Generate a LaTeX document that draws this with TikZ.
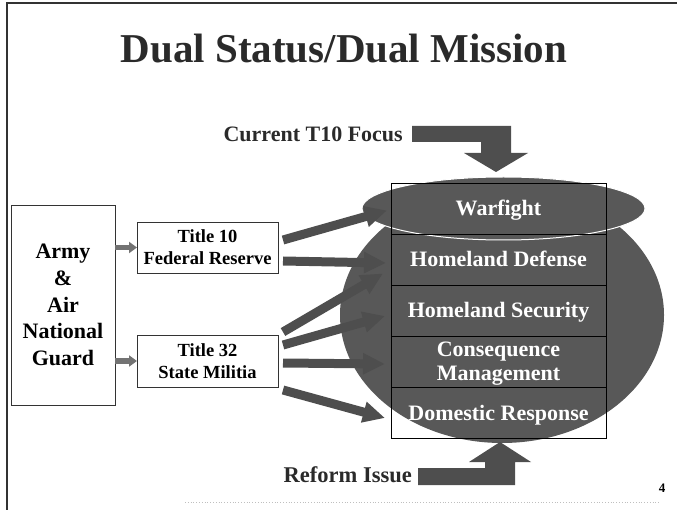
\documentclass[tikz,border=0pt]{standalone}
\usepackage{fontspec}
\setmainfont{Liberation Serif}
\usepackage{tikz}
\usetikzlibrary{shapes}
\usetikzlibrary{arrows.meta}
\usetikzlibrary{positioning}
\usetikzlibrary{calc}
\definecolor{potfill}{HTML}{585858}
\definecolor{arrfill}{HTML}{4E4E4E}
\definecolor{inktext}{HTML}{2A2A2A}
\newcommand{\slidefont}[2]{\fontsize{#1}{#2}\selectfont\bfseries}

\begin{document}
\begin{tikzpicture}[
  x=1pt, y=-1pt,
  box/.style={
    draw=black!80,
    line width=0.7pt,
    align=center,
    inner sep=0pt,
    outer sep=0pt},
  row/.style={
    draw=black,
    line width=0.5pt,
    minimum width=215pt,
    minimum height=51pt,
    inner sep=0pt,
    outer sep=0pt},
  rowtext/.style={
    text=white,
    inner sep=0pt,
    font=\slidefont{22}{24}},
  blob/.style={
    ellipse,
    fill=potfill,
    inner sep=0pt},
  feed/.style={
    -{Triangle[width=20pt,length=22pt]},
    line width=9pt,
    draw=arrfill},
  link/.style={
    -{Triangle[width=11pt,length=8pt]},
    line width=5pt,
    draw=black!55},
]

  \def\rowx{498.5}%
  \def\rowtop{183}%
  \def\rowh{51}%

  \useasboundingbox (0,0) rectangle (677,510);

  % slide frame
  \draw[line width=1.2pt, black!80] (7,510) -- (7,3) -- (677,3);
  \draw[black!25, dotted, line width=0.8pt] (185,502) -- (660,502);

  % title
  \node[font=\slidefont{41}{41}, text=inktext, anchor=base] (title)
      at (344,63) {Dual Status/Dual Mission};

  % mission ellipses
  \node[blob, minimum width=324pt, minimum height=256pt] (pot) at (502,315) {};
  \node[blob, draw=white, line width=1pt, minimum width=283pt,
      minimum height=63pt] (wfpot) at (503.5,208.5) {};

  % mission rows
  \foreach \name [count=\i from 0] in {w,hd,hs,cm,dr} {
    \node[row] (\name) at (\rowx, \rowtop + \rowh*\i + \rowh/2) {};
  }
  \foreach \name/\txt in {w/Warfight, hd/Homeland Defense,
      hs/Homeland Security, dr/Domestic Response} {
    \node[rowtext, text height=15pt, text depth=0pt] (\name txt) at (\name) {\txt};
  }
  \node[rowtext, align=center, yshift=-2.4pt] (cmtxt) at (cm)
      {Consequence\\Management};

  % status boxes
  \node[box, minimum width=104pt, minimum height=200pt,
      font=\slidefont{22}{26.8}] (guard) at (63,305)
      {Army\\\&\\Air\\National\\Guard};
  \node[box, minimum width=141pt, minimum height=51pt,
      font=\slidefont{18.5}{22}] (t10) at (207.5,247.5)
      {Title 10\\Federal Reserve};
  \node[box, minimum width=141pt, minimum height=52pt,
      font=\slidefont{18.5}{22}] (t32) at (207.5,361)
      {Title 32\\State Militia};

  \draw[link] (guard.east |- t10.west) -- (t10.west);
  \draw[link] (guard.east |- t32.west) -- (t32.west);

  % status to mission
  \draw[feed] ($(t10.east)+(5,-7.5)$) -- ($(w.west)+(-4,2)$);
  \draw[feed] ($(t10.east)+(5,13.5)$) -- ($(hd.west)+(-5,3.5)$);
  \draw[feed] ($(t32.east)+(5,-29)$) -- ($(hd.west)+(-8,14)$);
  \draw[feed] ($(t32.east)+(5,-16)$) -- ($(hs.west)+(-6,5.5)$);
  \draw[feed] ($(t32.east)+(5,2)$) -- ($(cm.west)+(-6,2.5)$);
  \draw[feed] ($(t32.east)+(5,29)$) -- ($(dr.west)+(-6,5.5)$);

  % focus and reform
  \node[font=\slidefont{22}{22}, text=inktext, anchor=base east, inner sep=0pt]
      (focus) at (403,142) {Current T10 Focus};
  \fill[arrfill] (412,126) -- (511,126) -- (511,153) -- (528,153) -- (496,172)
      -- (464,153) -- (481,153) -- (481,142) -- (412,142) -- cycle;

  \node[font=\slidefont{22.5}{22.5}, text=inktext, anchor=base east, inner sep=0pt]
      (reform) at (412,482) {Reform Issue};
  \fill[arrfill] (418,485) -- (515,485) -- (515,462) -- (531,462) -- (500,442)
      -- (469,462) -- (485,462) -- (485,468) -- (418,468) -- cycle;

  % page number
  \node[font=\slidefont{13}{13}, anchor=base, inner sep=0pt] (pageno)
      at (662,492) {4};

\end{tikzpicture}
\end{document}
